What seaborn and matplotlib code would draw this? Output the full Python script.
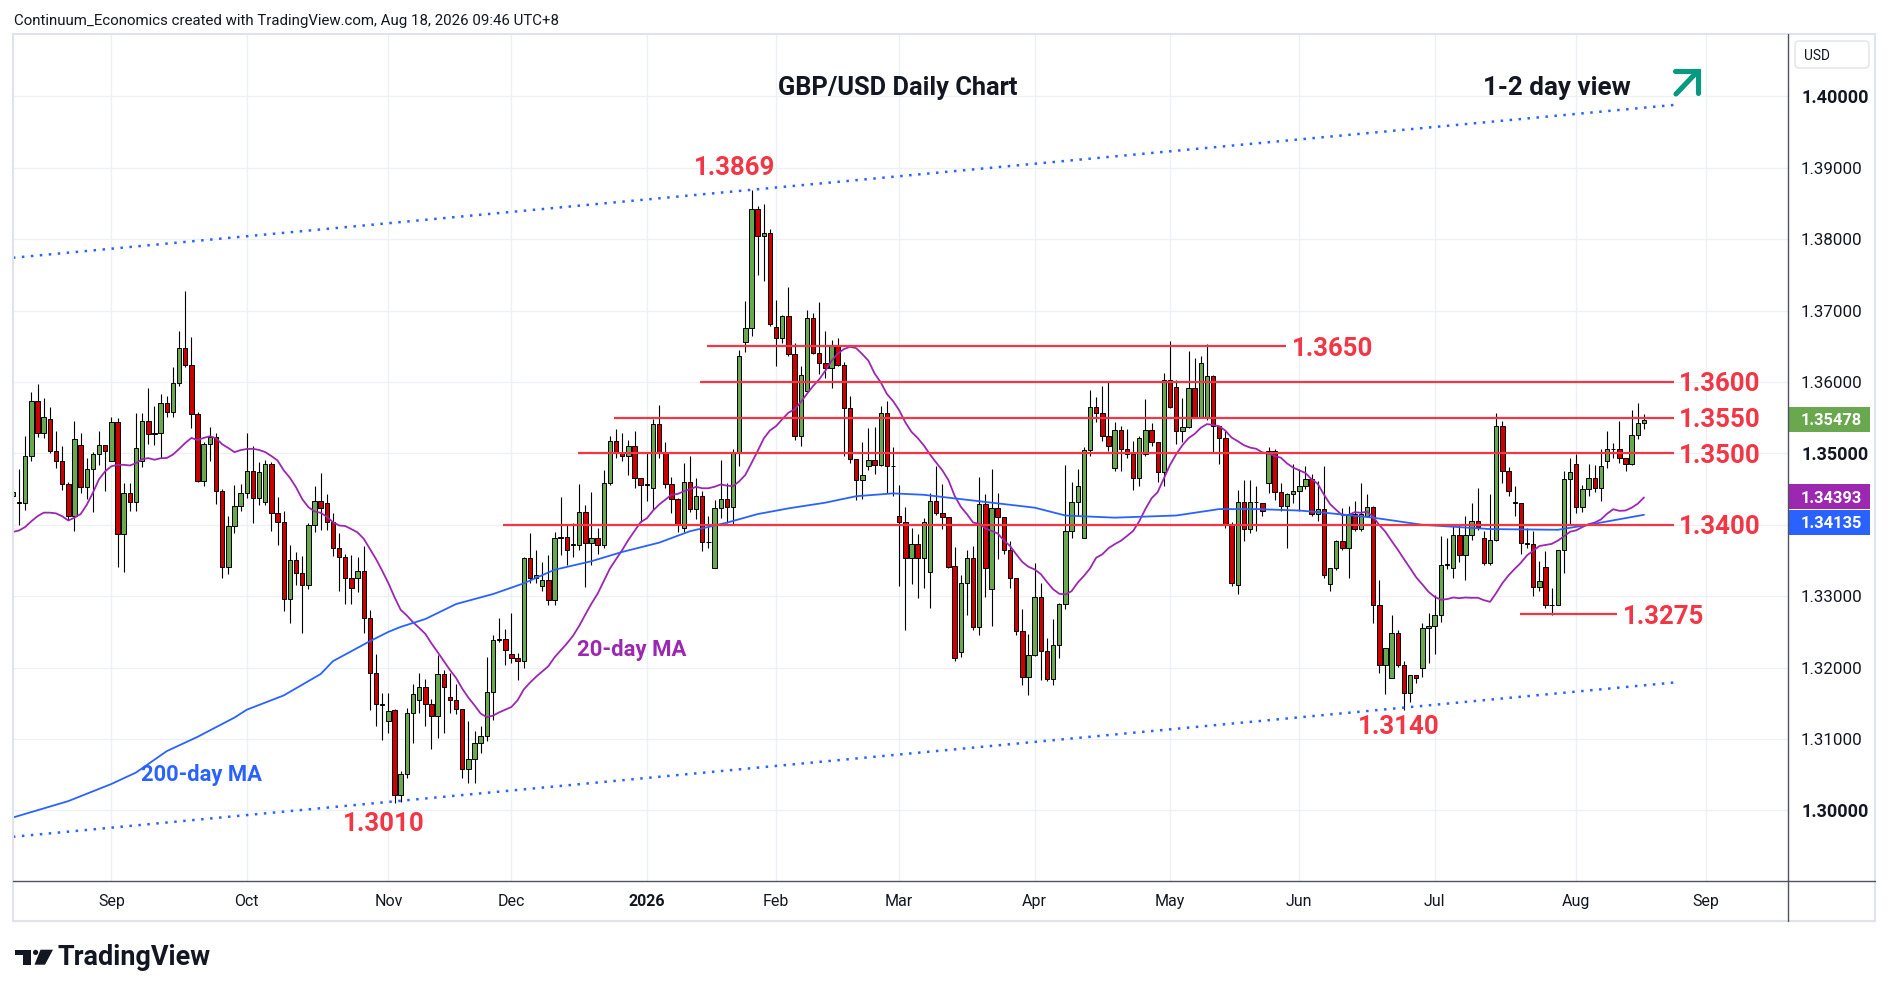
import matplotlib
matplotlib.use('Agg')
import matplotlib.pyplot as plt
from matplotlib.transforms import Affine2D
from matplotlib.patches import Rectangle, FancyBboxPatch, Polygon, Circle
from matplotlib.lines import Line2D
import numpy as np
import pandas as pd
import seaborn as sns

# ---------------- data ----------------
# one bar per trading day, Aug 8 2025 (bar 0) .. Aug 18 2026 (bar 265)
opens = [
    1.3440, 1.3432, 1.3430, 1.3497, 1.3574, 1.3529, 1.3548, 1.3503, 1.3490, 1.3457,
    1.3413, 1.3512, 1.3453, 1.3478, 1.3499, 1.3512, 1.3490, 1.3544, 1.3387, 1.3444,
    1.3432, 1.3489, 1.3545, 1.3527, 1.3528, 1.3571, 1.3558, 1.3599, 1.3647, 1.3624,
    1.3555, 1.3461, 1.3513, 1.3523, 1.3447, 1.3341, 1.3398, 1.3427, 1.3445, 1.3476,
    1.3437, 1.3432, 1.3485, 1.3416, 1.3404, 1.3296, 1.3350, 1.3332, 1.3316, 1.3400,
    1.3433, 1.3430, 1.3404, 1.3368, 1.3355, 1.3325, 1.3325, 1.3335, 1.3269, 1.3193,
    1.3149, 1.3125, 1.3140, 1.3022, 1.3051, 1.3136, 1.3155, 1.3173, 1.3149, 1.3132,
    1.3191, 1.3159, 1.3154, 1.3142, 1.3058, 1.3072, 1.3095, 1.3104, 1.3166, 1.3239,
    1.3240, 1.3219, 1.3214, 1.3209, 1.3353, 1.3325, 1.3314, 1.3322, 1.3295, 1.3382,
    1.3383, 1.3372, 1.3372, 1.3418, 1.3375, 1.3381, 1.3372, 1.3458, 1.3518, 1.3501,
    1.3496, 1.3510, 1.3466, 1.3456, 1.3451, 1.3541, 1.3500, 1.3457, 1.3436, 1.3395,
    1.3460, 1.3422, 1.3440, 1.3376, 1.3340, 1.3423, 1.3436, 1.3425, 1.3502, 1.3656,
    1.3676, 1.3842, 1.3805, 1.3808, 1.3677, 1.3662, 1.3693, 1.3639, 1.3524, 1.3587,
    1.3690, 1.3641, 1.3627, 1.3619, 1.3651, 1.3624, 1.3564, 1.3492, 1.3463, 1.3482,
    1.3491, 1.3484, 1.3557, 1.3482, 1.3412, 1.3404, 1.3353, 1.3373, 1.3353, 1.3334,
    1.3434, 1.3417, 1.3411, 1.3342, 1.3222, 1.3319, 1.3354, 1.3257, 1.3429, 1.3310,
    1.3423, 1.3411, 1.3364, 1.3325, 1.3251, 1.3187, 1.3217, 1.3299, 1.3223, 1.3184,
    1.3231, 1.3289, 1.3392, 1.3432, 1.3381, 1.3505, 1.3565, 1.3557, 1.3525, 1.3480,
    1.3533, 1.3506, 1.3499, 1.3466, 1.3499, 1.3533, 1.3516, 1.3474, 1.3603, 1.3593,
    1.3531, 1.3537, 1.3592, 1.3551, 1.3549, 1.3608, 1.3539, 1.3522, 1.3401, 1.3316,
    1.3432, 1.3394, 1.3432, 1.3431, 1.3459, 1.3503, 1.3446, 1.3427, 1.3443, 1.3448,
    1.3454, 1.3464, 1.3415, 1.3422, 1.3317, 1.3339, 1.3378, 1.3367, 1.3415, 1.3394,
    1.3413, 1.3425, 1.3288, 1.3203, 1.3186, 1.3248, 1.3203, 1.3164, 1.3189, 1.3199,
    1.3256, 1.3258, 1.3273, 1.3344, 1.3340, 1.3386, 1.3358, 1.3386, 1.3406, 1.3381,
    1.3346, 1.3379, 1.3538, 1.3476, 1.3432, 1.3430, 1.3374, 1.3373, 1.3313, 1.3341,
    1.3287, 1.3287, 1.3364, 1.3464, 1.3485, 1.3425, 1.3450, 1.3466, 1.3452, 1.3490,
    1.3506, 1.3506, 1.3493, 1.3485, 1.3526, 1.3543,
]
highs = [
    1.3452, 1.3478, 1.3525, 1.3586, 1.3597, 1.3577, 1.3565, 1.3531, 1.3510, 1.3460,
    1.3546, 1.3529, 1.3494, 1.3502, 1.3532, 1.3512, 1.3551, 1.3549, 1.3459, 1.3459,
    1.3556, 1.3557, 1.3591, 1.3566, 1.3583, 1.3581, 1.3621, 1.3672, 1.3727, 1.3663,
    1.3558, 1.3516, 1.3537, 1.3528, 1.3450, 1.3413, 1.3456, 1.3457, 1.3528, 1.3510,
    1.3488, 1.3491, 1.3488, 1.3439, 1.3420, 1.3371, 1.3362, 1.3356, 1.3403, 1.3455,
    1.3473, 1.3443, 1.3417, 1.3388, 1.3359, 1.3357, 1.3355, 1.3370, 1.3281, 1.3219,
    1.3164, 1.3164, 1.3142, 1.3055, 1.3143, 1.3177, 1.3192, 1.3184, 1.3156, 1.3217,
    1.3196, 1.3193, 1.3177, 1.3142, 1.3125, 1.3111, 1.3118, 1.3215, 1.3245, 1.3270,
    1.3254, 1.3276, 1.3220, 1.3355, 1.3388, 1.3364, 1.3348, 1.3357, 1.3390, 1.3439,
    1.3401, 1.3402, 1.3457, 1.3428, 1.3446, 1.3395, 1.3477, 1.3525, 1.3534, 1.3529,
    1.3519, 1.3532, 1.3466, 1.3501, 1.3548, 1.3568, 1.3516, 1.3467, 1.3437, 1.3486,
    1.3496, 1.3465, 1.3447, 1.3413, 1.3435, 1.3491, 1.3458, 1.3506, 1.3645, 1.3713,
    1.3869, 1.3847, 1.3849, 1.3814, 1.3715, 1.3694, 1.3733, 1.3654, 1.3623, 1.3701,
    1.3696, 1.3712, 1.3671, 1.3659, 1.3661, 1.3628, 1.3581, 1.3492, 1.3516, 1.3535,
    1.3537, 1.3566, 1.3574, 1.3509, 1.3456, 1.3425, 1.3396, 1.3387, 1.3410, 1.3444,
    1.3483, 1.3457, 1.3411, 1.3369, 1.3330, 1.3364, 1.3370, 1.3467, 1.3443, 1.3478,
    1.3444, 1.3411, 1.3378, 1.3325, 1.3282, 1.3247, 1.3346, 1.3319, 1.3242, 1.3268,
    1.3290, 1.3484, 1.3460, 1.3478, 1.3509, 1.3589, 1.3579, 1.3595, 1.3600, 1.3544,
    1.3539, 1.3534, 1.3518, 1.3525, 1.3576, 1.3542, 1.3516, 1.3612, 1.3657, 1.3603,
    1.3578, 1.3644, 1.3633, 1.3636, 1.3653, 1.3610, 1.3539, 1.3531, 1.3404, 1.3449,
    1.3463, 1.3463, 1.3455, 1.3431, 1.3509, 1.3506, 1.3458, 1.3445, 1.3485, 1.3478,
    1.3482, 1.3471, 1.3461, 1.3482, 1.3340, 1.3379, 1.3424, 1.3426, 1.3434, 1.3459,
    1.3443, 1.3426, 1.3323, 1.3228, 1.3273, 1.3252, 1.3209, 1.3189, 1.3190, 1.3262,
    1.3276, 1.3302, 1.3384, 1.3382, 1.3400, 1.3400, 1.3412, 1.3431, 1.3452, 1.3391,
    1.3443, 1.3557, 1.3546, 1.3481, 1.3454, 1.3430, 1.3396, 1.3392, 1.3349, 1.3363,
    1.3311, 1.3364, 1.3475, 1.3494, 1.3499, 1.3456, 1.3485, 1.3484, 1.3506, 1.3532,
    1.3515, 1.3546, 1.3493, 1.3561, 1.3571, 1.3555,
]
lows = [
    1.3436, 1.3400, 1.3421, 1.3489, 1.3523, 1.3521, 1.3500, 1.3479, 1.3449, 1.3407,
    1.3392, 1.3445, 1.3436, 1.3418, 1.3484, 1.3448, 1.3489, 1.3341, 1.3334, 1.3420,
    1.3420, 1.3481, 1.3513, 1.3512, 1.3494, 1.3551, 1.3551, 1.3595, 1.3621, 1.3536,
    1.3460, 1.3455, 1.3489, 1.3429, 1.3325, 1.3331, 1.3388, 1.3420, 1.3438, 1.3402,
    1.3428, 1.3428, 1.3392, 1.3372, 1.3279, 1.3263, 1.3315, 1.3249, 1.3310, 1.3390,
    1.3393, 1.3393, 1.3356, 1.3307, 1.3289, 1.3289, 1.3306, 1.3249, 1.3141, 1.3118,
    1.3098, 1.3109, 1.3010, 1.3012, 1.3046, 1.3095, 1.3137, 1.3118, 1.3086, 1.3102,
    1.3109, 1.3137, 1.3135, 1.3045, 1.3039, 1.3039, 1.3081, 1.3097, 1.3126, 1.3236,
    1.3203, 1.3207, 1.3182, 1.3200, 1.3318, 1.3318, 1.3307, 1.3288, 1.3288, 1.3357,
    1.3343, 1.3355, 1.3364, 1.3313, 1.3343, 1.3359, 1.3367, 1.3456, 1.3493, 1.3490,
    1.3470, 1.3451, 1.3404, 1.3434, 1.3421, 1.3493, 1.3452, 1.3417, 1.3390, 1.3390,
    1.3418, 1.3408, 1.3363, 1.3367, 1.3339, 1.3410, 1.3402, 1.3401, 1.3483, 1.3642,
    1.3664, 1.3750, 1.3742, 1.3679, 1.3623, 1.3655, 1.3637, 1.3519, 1.3510, 1.3586,
    1.3639, 1.3611, 1.3605, 1.3591, 1.3623, 1.3496, 1.3486, 1.3435, 1.3436, 1.3477,
    1.3471, 1.3482, 1.3445, 1.3441, 1.3314, 1.3253, 1.3317, 1.3298, 1.3312, 1.3284,
    1.3414, 1.3394, 1.3339, 1.3209, 1.3215, 1.3274, 1.3253, 1.3246, 1.3299, 1.3258,
    1.3352, 1.3359, 1.3311, 1.3245, 1.3175, 1.3161, 1.3216, 1.3183, 1.3181, 1.3176,
    1.3213, 1.3282, 1.3381, 1.3413, 1.3381, 1.3497, 1.3544, 1.3518, 1.3504, 1.3475,
    1.3475, 1.3493, 1.3449, 1.3455, 1.3497, 1.3510, 1.3460, 1.3454, 1.3564, 1.3513,
    1.3516, 1.3535, 1.3550, 1.3550, 1.3547, 1.3500, 1.3485, 1.3395, 1.3314, 1.3303,
    1.3377, 1.3388, 1.3392, 1.3413, 1.3445, 1.3435, 1.3420, 1.3368, 1.3430, 1.3419,
    1.3450, 1.3412, 1.3406, 1.3325, 1.3307, 1.3336, 1.3364, 1.3325, 1.3391, 1.3391,
    1.3411, 1.3263, 1.3193, 1.3163, 1.3186, 1.3201, 1.3141, 1.3152, 1.3179, 1.3187,
    1.3206, 1.3219, 1.3264, 1.3338, 1.3326, 1.3348, 1.3323, 1.3379, 1.3393, 1.3343,
    1.3343, 1.3378, 1.3459, 1.3440, 1.3412, 1.3359, 1.3368, 1.3300, 1.3307, 1.3284,
    1.3274, 1.3287, 1.3333, 1.3400, 1.3417, 1.3418, 1.3440, 1.3446, 1.3434, 1.3480,
    1.3494, 1.3487, 1.3475, 1.3484, 1.3520, 1.3534,
]
closes = [
    1.3446, 1.3430, 1.3497, 1.3574, 1.3529, 1.3551, 1.3503, 1.3490, 1.3457, 1.3413,
    1.3520, 1.3453, 1.3478, 1.3499, 1.3512, 1.3503, 1.3544, 1.3387, 1.3444, 1.3432,
    1.3507, 1.3545, 1.3527, 1.3528, 1.3571, 1.3558, 1.3599, 1.3647, 1.3624, 1.3555,
    1.3461, 1.3513, 1.3523, 1.3447, 1.3341, 1.3398, 1.3427, 1.3445, 1.3476, 1.3437,
    1.3474, 1.3485, 1.3416, 1.3404, 1.3296, 1.3350, 1.3332, 1.3316, 1.3400, 1.3433,
    1.3424, 1.3404, 1.3368, 1.3355, 1.3325, 1.3311, 1.3335, 1.3269, 1.3193, 1.3149,
    1.3148, 1.3139, 1.3021, 1.3051, 1.3136, 1.3163, 1.3173, 1.3149, 1.3132, 1.3191,
    1.3173, 1.3154, 1.3142, 1.3058, 1.3072, 1.3095, 1.3104, 1.3166, 1.3239, 1.3240,
    1.3225, 1.3214, 1.3209, 1.3353, 1.3325, 1.3330, 1.3322, 1.3295, 1.3382, 1.3383,
    1.3365, 1.3372, 1.3418, 1.3375, 1.3381, 1.3372, 1.3458, 1.3518, 1.3501, 1.3496,
    1.3510, 1.3466, 1.3456, 1.3457, 1.3541, 1.3500, 1.3457, 1.3436, 1.3401, 1.3460,
    1.3422, 1.3440, 1.3376, 1.3376, 1.3423, 1.3436, 1.3425, 1.3502, 1.3637, 1.3676,
    1.3842, 1.3805, 1.3808, 1.3681, 1.3662, 1.3693, 1.3639, 1.3524, 1.3610, 1.3690,
    1.3641, 1.3627, 1.3619, 1.3651, 1.3624, 1.3564, 1.3492, 1.3463, 1.3470, 1.3491,
    1.3484, 1.3557, 1.3482, 1.3482, 1.3404, 1.3353, 1.3373, 1.3353, 1.3404, 1.3434,
    1.3417, 1.3411, 1.3341, 1.3214, 1.3319, 1.3354, 1.3257, 1.3429, 1.3339, 1.3423,
    1.3411, 1.3364, 1.3325, 1.3251, 1.3187, 1.3217, 1.3299, 1.3223, 1.3184, 1.3231,
    1.3289, 1.3392, 1.3432, 1.3455, 1.3505, 1.3565, 1.3557, 1.3525, 1.3511, 1.3533,
    1.3506, 1.3499, 1.3466, 1.3522, 1.3533, 1.3516, 1.3474, 1.3603, 1.3565, 1.3531,
    1.3537, 1.3592, 1.3551, 1.3627, 1.3608, 1.3539, 1.3522, 1.3401, 1.3318, 1.3432,
    1.3394, 1.3432, 1.3432, 1.3420, 1.3503, 1.3446, 1.3427, 1.3443, 1.3447, 1.3454,
    1.3464, 1.3415, 1.3422, 1.3329, 1.3339, 1.3378, 1.3367, 1.3415, 1.3394, 1.3415,
    1.3425, 1.3288, 1.3203, 1.3228, 1.3248, 1.3203, 1.3164, 1.3189, 1.3186, 1.3256,
    1.3258, 1.3273, 1.3344, 1.3344, 1.3386, 1.3358, 1.3386, 1.3406, 1.3397, 1.3346,
    1.3379, 1.3538, 1.3476, 1.3447, 1.3430, 1.3374, 1.3373, 1.3313, 1.3321, 1.3287,
    1.3287, 1.3364, 1.3464, 1.3474, 1.3425, 1.3450, 1.3466, 1.3452, 1.3483, 1.3506,
    1.3506, 1.3493, 1.3485, 1.3526, 1.3543, 1.3547,
]
# 20-day MA as drawn for the first 19 bars (its window starts before the chart)
ma20_head = [1.3390, 1.3392, 1.3397, 1.3405, 1.3412, 1.3417, 1.3417, 1.3416, 1.3412, 1.3406,
             1.3410, 1.3415, 1.3428, 1.3445, 1.3464, 1.3475, 1.3482, 1.3484, 1.3484]
# 200-day MA read at bar positions
ma200_bar = [0, 9, 16, 20, 25, 30, 36, 38, 44, 50, 52, 58, 61, 63, 67, 72, 78, 83, 88, 94,
             99, 105, 110, 116, 121, 126, 132, 137, 143, 148, 154, 160, 166, 171, 179, 189,
             196, 202, 209, 213, 221, 229, 240, 251, 256, 265]
ma200_val = [1.2990, 1.3013, 1.3037, 1.3053, 1.3083, 1.3103, 1.3130, 1.3141, 1.3161, 1.3191,
             1.3209, 1.3237, 1.3250, 1.3257, 1.3268, 1.3289, 1.3303, 1.3318, 1.3337, 1.3349,
             1.3362, 1.3375, 1.3391, 1.3403, 1.3415, 1.3423, 1.3431, 1.3440, 1.3444, 1.3442,
             1.3436, 1.3430, 1.3424, 1.3413, 1.3410, 1.3413, 1.3422, 1.3422, 1.3420, 1.3417,
             1.3410, 1.3400, 1.3394, 1.3393, 1.3400, 1.3414]

month_labels = ['Sep', 'Oct', 'Nov', 'Dec', '2026', 'Feb', 'Mar', 'Apr', 'May', 'Jun', 'Jul', 'Aug', 'Sep']
month_bar = [16, 38, 61, 81, 103, 124, 144, 166, 188, 209, 231, 254, 275]
price_ticks = [1.30, 1.31, 1.32, 1.33, 1.34, 1.35, 1.36, 1.37, 1.38, 1.39, 1.40]

levels = [1.3650, 1.3600, 1.3550, 1.3500, 1.3400, 1.3275]
level_from = [112.7, 111.7, 97.7, 91.8, 79.7, 244.8]
level_to = [206.8, 269.8, 269.8, 269.8, 269.8, 260.6]

trend_bar = [0, 269.8]
trend_upper = [1.3774, 1.3988]
trend_lower = [1.2963, 1.3179]

last_price, ma20_last, ma200_last = 1.35478, 1.34393, 1.34135

# ---------------- style ----------------
GREEN = '#6aa84f'
RED = '#cc0000'
LEVEL_RED = '#f23645'
PURPLE = '#9c27b0'
BLUE = '#2962ff'
TEAL = '#089981'
TXT = '#131722'

sns.set_theme(style='white')
plt.rcParams['font.family'] = ['Roboto', 'DejaVu Sans']

W, H = 1888, 996
fig = plt.figure(figsize=(W / 100, H / 100), dpi=100)
fig.patch.set_facecolor('white')
PX = Affine2D().scale(1, -1).translate(0, H)   # pixel coords, y downwards
renderer = fig.canvas.get_renderer()

AX_L, AX_R, AX_T, AX_B = 12.6, 1788.0, 34.0, 881.0
ax = fig.add_axes([AX_L / W, 1 - AX_B / H, (AX_R - AX_L) / W, (AX_B - AX_T) / H])
ax.set_facecolor('white')


def fit(t, width):
    w = t.get_window_extent(renderer).width
    t.set_fontsize(t.get_fontsize() * width / w)
    return t


def size_for(s, width, **kw):
    t = fig.text(0, 0, s, fontsize=10, **kw)
    w = t.get_window_extent(renderer).width
    t.remove()
    return 10 * width / w


o = np.array(opens); h = np.array(highs); l = np.array(lows); c = np.array(closes)
bars = np.arange(len(c))
up = c >= o

# wicks and bodies
ax.vlines(bars, np.minimum(l, np.minimum(o, c)), np.maximum(h, np.maximum(o, c)),
          color='black', lw=0.8, zorder=3)
ax.bar(bars, np.maximum(np.abs(c - o), 0.00005), bottom=np.minimum(o, c), width=0.72,
       color=np.where(up, GREEN, RED), edgecolor='black', linewidth=0.7, zorder=4)

# moving averages
ma20 = pd.Series(closes).rolling(20).mean().to_numpy()
ma20[:len(ma20_head)] = ma20_head
sns.lineplot(x=bars, y=ma20, ax=ax, color=PURPLE, lw=1.3, zorder=5)
sns.lineplot(x=ma200_bar, y=ma200_val, ax=ax, color=BLUE, lw=1.3, zorder=5)

# trend channel
ax.plot(trend_bar, trend_upper, color=BLUE, lw=1.8, ls=(0, (1, 2.6)), zorder=6)
ax.plot(trend_bar, trend_lower, color=BLUE, lw=1.8, ls=(0, (1, 2.6)), zorder=6)

# levels
ax.hlines(levels, level_from, level_to, color=LEVEL_RED, lw=1.6, zorder=6)
for lv, x1 in zip(levels, level_to):
    t = ax.text(x1 + 0.95, lv, f'{lv:.4f}', ha='left', va='center_baseline',
                color=LEVEL_RED, fontweight='bold', zorder=7)
    fit(t, 81)

for s, x, y in [('1.3869', 117.3, 1.3903), ('1.3010', 60.3, 1.2984), ('1.3140', 225.2, 1.3120)]:
    fit(ax.text(x, y, s, ha='center', va='center_baseline', color=LEVEL_RED,
                fontweight='bold', zorder=7), 81)
fit(ax.text(100.5, 1.3228, '20-day MA', ha='center', va='center_baseline', color=PURPLE,
            fontweight='bold', zorder=7), 109)
fit(ax.text(30.6, 1.3053, '200-day MA', ha='center', va='center_baseline', color=BLUE,
            fontweight='bold', zorder=7), 121)

# axes
ax.set_xlim(-0.05, 288.4)
ax.set_ylim(1.29011, 1.40874)
ax.set_xlabel('')
ax.set_ylabel('')
for sp in ax.spines.values():
    sp.set_visible(False)
ax.set_xticks(month_bar)
ax.set_xticklabels(month_labels)
ax.set_yticks(price_ticks)
ax.set_yticklabels([f'{v:.5f}' for v in price_ticks])
ax.yaxis.tick_right()
ax.tick_params(axis='both', length=0, colors=TXT)
ax.tick_params(axis='y', pad=9.4)
ax.tick_params(axis='x', pad=14.4)
ax.grid(True, color='#edf0f5', lw=1.0)
ax.set_axisbelow(True)

fs_month = size_for('Sep', 27)
for lab in ax.get_xticklabels():
    lab.set_fontsize(fs_month)
    lab.set_va('center')
    if lab.get_text() == '2026':
        lab.set_fontweight('bold')
fs_p = size_for('1.39000', 61)
fs_pb = size_for('1.40000', 67, fontweight='bold')
for lab, v in zip(ax.get_yticklabels(), price_ticks):
    if round(v * 100) % 5 == 0:
        lab.set_fontsize(fs_pb)
        lab.set_fontweight('bold')
    else:
        lab.set_fontsize(fs_p)

# value boxes on the price scale
box_h = 0.0035
yt = ax.get_yaxis_transform()
x1 = (1870 - AX_L) / (AX_R - AX_L)
xt = (1801 - AX_L) / (AX_R - AX_L)
for val, ctr, col in [(last_price, last_price, GREEN), (ma20_last, ma20_last, PURPLE),
                      (ma200_last, ma20_last - box_h - 0.00005, BLUE)]:
    ax.add_patch(Rectangle((1.0, ctr - box_h / 2), x1 - 1.0, box_h, transform=yt,
                           clip_on=False, facecolor=col, edgecolor='none', zorder=10))
    fit(ax.text(xt, ctr, f'{val:.5f}', transform=yt, ha='left', va='center_baseline',
                color='white', fontweight='bold', zorder=11, clip_on=False), 61)

# frame
fig.add_artist(Rectangle((12.6, 34), 1875 - 12.6, 921 - 34, transform=PX, fill=False,
                         edgecolor='#e0e3eb', lw=1.5))
fig.add_artist(Line2D([12.6, 1875], [881, 881], transform=PX, color='#50535e', lw=1.0))
fig.add_artist(Line2D([1788, 1788], [34, 921], transform=PX, color='#50535e', lw=1.0))
fig.add_artist(FancyBboxPatch((1795, 41), 74, 27, boxstyle='round,pad=0,rounding_size=4',
                              transform=PX, facecolor='white', edgecolor='#e0e3eb', lw=1.0))
fit(fig.text(1804, 54.5, 'USD', transform=PX, ha='left', va='center_baseline', color=TXT), 26)

# texts
fit(fig.text(14, 19, 'Continuum_Economics created with TradingView.com, Aug 18, 2026 09:46 UTC+8',
             transform=PX, ha='left', va='center_baseline', color=TXT), 543)
fit(fig.text(898, 94.5, 'GBP/USD Daily Chart', transform=PX, ha='center', va='baseline',
             color=TXT, fontweight='bold'), 238)
fit(fig.text(1556.5, 94.5, '1-2 day view', transform=PX, ha='center', va='baseline',
             color=TXT, fontweight='bold'), 147)

# arrow (teal, up-right)
fig.add_artist(Line2D([1676, 1696], [94, 73], transform=PX, color=TEAL, lw=3.7,
                      solid_capstyle='round'))
fig.add_artist(Line2D([1675, 1698, 1698], [70.5, 70.5, 93], transform=PX, color=TEAL, lw=3.7,
                      solid_capstyle='round', solid_joinstyle='miter'))

# TradingView logo
fig.add_artist(Rectangle((15.3, 949.7), 16, 5.5, transform=PX, facecolor='#131722', edgecolor='none'))
fig.add_artist(Rectangle((23, 949.7), 8.3, 15, transform=PX, facecolor='#131722', edgecolor='none'))
fig.add_artist(Circle((35.6, 952.4), 2.6, transform=PX, facecolor='#131722', edgecolor='none'))
fig.add_artist(Polygon([(40.5, 949.7), (53, 949.7), (45, 964.7), (34.5, 964.7)], closed=True,
                       transform=PX, facecolor='#131722', edgecolor='none'))
fit(fig.text(58, 964.5, 'TradingView', transform=PX, ha='left', va='baseline', color='#131722',
             fontweight='bold'), 153)

fig.savefig('out.png', dpi=100, facecolor='white')
